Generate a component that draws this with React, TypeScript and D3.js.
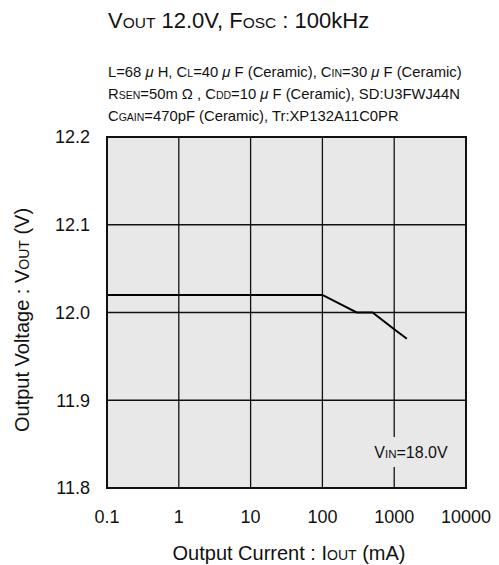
import React from 'react';
import * as d3 from 'd3';

const currents = [0.1, 100, 300, 500, 1000, 1500];
const voltages = [12.02, 12.02, 12.0, 12.0, 11.981, 11.97];
const xTicks = [0.1, 1, 10, 100, 1000, 10000];
const xTickLabels = ['0.1', '1', '10', '100', '1000', '10000'];
const yTicks = [11.8, 11.9, 12.0, 12.1, 12.2];

const W = 499, H = 565;
const M = { left: 107, right: 466, top: 137, bottom: 488 };
const FONT = 'Arial, "Liberation Sans", sans-serif';

export default function App() {
  const x = d3.scaleLog().domain([0.1, 10000]).range([M.left, M.right]);
  const y = d3.scaleLinear().domain([11.8, 12.2]).range([M.bottom, M.top]);
  const line = d3.line<number>().x((_, i) => x(currents[i])).y((d) => y(d));
  const path = line(voltages) || '';

  return (
    <svg width={W} height={H} style={{ position: 'absolute', left: 0, top: 0, background: '#fff' }} fontFamily={FONT}>
      <text x={108} y={28} fontSize={22} fill="#111">
        V<tspan fontSize={15.5}>OUT</tspan> 12.0V, F<tspan fontSize={15.5}>OSC</tspan> : 100kHz
      </text>
      <g fontSize={14.8} fill="#111">
        <text x={108} y={77}>
          L=68 <tspan fontStyle="italic">μ</tspan> H, C<tspan fontSize={10.5}>L</tspan>=40 <tspan fontStyle="italic">μ</tspan> F (Ceramic), C<tspan fontSize={10.5}>IN</tspan>=30 <tspan fontStyle="italic">μ</tspan> F (Ceramic)
        </text>
        <text x={108} y={99}>
          R<tspan fontSize={10.5}>SEN</tspan>=50m Ω , C<tspan fontSize={10.5}>DD</tspan>=10 <tspan fontStyle="italic">μ</tspan> F (Ceramic), SD:U3FWJ44N
        </text>
        <text x={108} y={121}>
          C<tspan fontSize={10.5}>GAIN</tspan>=470pF (Ceramic), Tr:XP132A11C0PR
        </text>
      </g>
      <rect x={M.left} y={M.top} width={M.right - M.left} height={M.bottom - M.top} fill="#e8e8e8" />
      {xTicks.slice(1, -1).map((t) => (
        <line key={'gx' + t} x1={x(t)} x2={x(t)} y1={M.top} y2={M.bottom} stroke="#111" strokeWidth={1.3} />
      ))}
      {yTicks.slice(1, -1).map((t) => (
        <line key={'gy' + t} x1={M.left} x2={M.right} y1={y(t)} y2={y(t)} stroke="#111" strokeWidth={1.3} />
      ))}
      <rect x={371} y={437} width={82} height={30} fill="#e8e8e8" />
      <text x={411} y={458} fontSize={16} textAnchor="middle" fill="#111">
        V<tspan fontSize={11.5}>IN</tspan>=18.0V
      </text>
      <path d={path} fill="none" stroke="#000" strokeWidth={2} />
      <rect x={M.left} y={M.top} width={M.right - M.left} height={M.bottom - M.top} fill="none" stroke="#111" strokeWidth={2} />
      <g fontSize={18} fill="#111">
        {yTicks.map((t) => (
          <text key={'yl' + t} x={90} y={y(t)} dy="0.35em" textAnchor="end">{t.toFixed(1)}</text>
        ))}
        {xTicks.map((t, i) => (
          <text key={'xl' + t} x={x(t)} y={523} textAnchor="middle">{xTickLabels[i]}</text>
        ))}
      </g>
      <g fontSize={20} fill="#111">
        <text x={289} y={560} textAnchor="middle">
          Output Current : I<tspan fontSize={14}>OUT</tspan> (mA)
        </text>
        <text transform={`translate(29,320) rotate(-90)`} textAnchor="middle">
          Output Voltage : V<tspan fontSize={14}>OUT</tspan> (V)
        </text>
      </g>
    </svg>
  );
}
